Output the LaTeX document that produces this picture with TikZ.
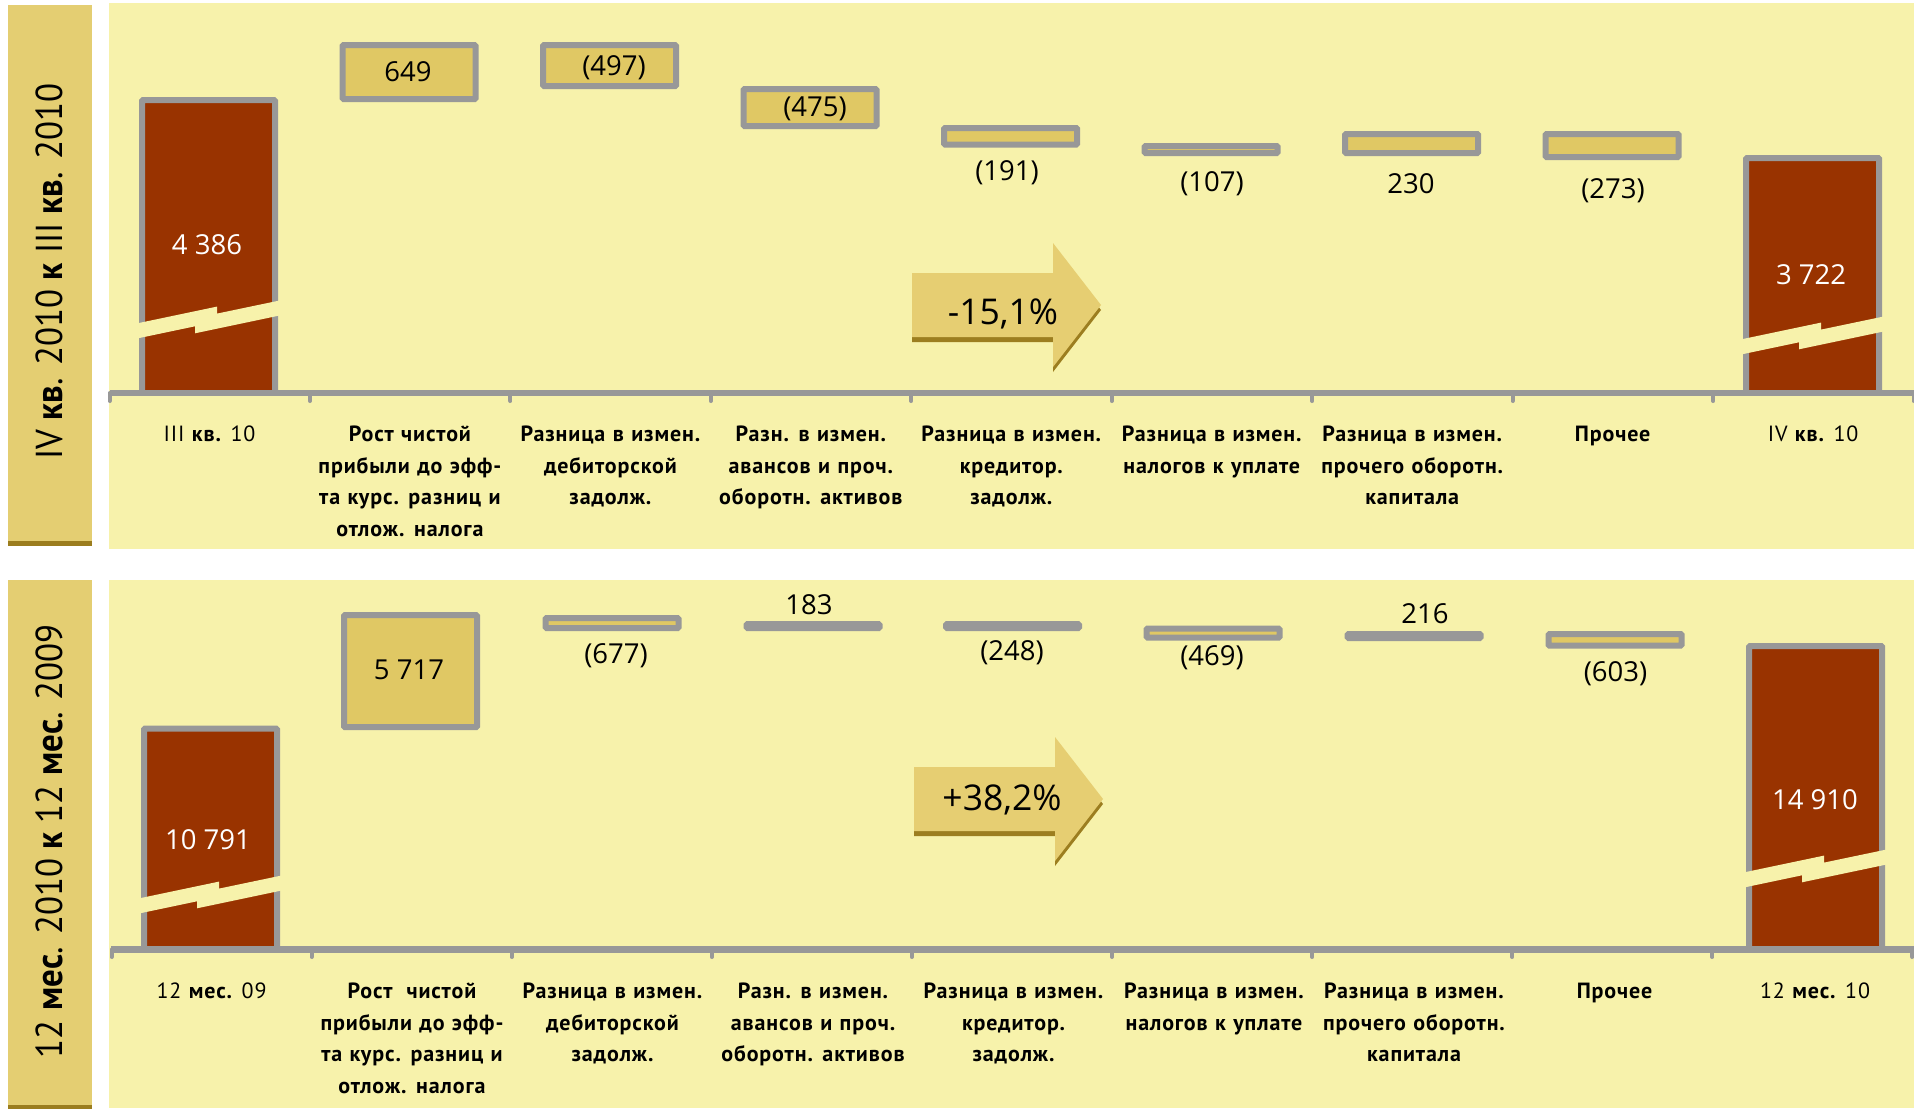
\documentclass[tikz,border=0pt]{standalone}
\usepackage{fontspec}
\setmainfont{PT Sans}
\newfontfamily\numfont{Open Sans}
\newfontfamily\lblfont[LetterSpace=4,WordSpace=1.15]{PT Sans}
\newfontfamily\bandfont[FakeStretch=0.93]{PT Sans}
\definecolor{panelbg}{HTML}{F7F2AB}
\definecolor{bandc}{HTML}{E4CE72}
\definecolor{banddark}{HTML}{9B7D1E}
\definecolor{barred}{HTML}{993300}
\definecolor{gridgray}{HTML}{989898}
\definecolor{boxfill}{HTML}{E0C864}
\definecolor{arrowfill}{HTML}{E6CE72}
\definecolor{arrowdark}{HTML}{9C7E20}
\tikzset{
  boxst/.style={fill=boxfill, draw=gridgray, line width=6pt, rounded corners=1pt},
  barst/.style={fill=barred, draw=gridgray, line width=6pt, rounded corners=1pt},
  axisst/.style={draw=gridgray, line width=6.5pt},
  tickst/.style={draw=gridgray, line width=4pt, line cap=round},
  catlbl/.style={anchor=north, align=center, inner sep=0pt, font=\lblfont\bfseries\fontsize{22}{31.5}\selectfont},
  vallbl/.style={anchor=base, inner sep=0pt, font=\numfont\fontsize{27.5}{33}\selectfont},
  barlbl/.style={vallbl, text=white},
  pctlbl/.style={anchor=base, inner sep=0pt, font=\numfont\fontsize{35.5}{40}\selectfont},
  bandlbl/.style={anchor=base, inner sep=0pt, rotate=90, font=\bandfont\fontsize{37.5}{44}\selectfont},
}
\newcommand\lbs{\rule{0pt}{22pt}}
\newcommand\wfBox[3]{\draw[boxst] ({#1-66.5},{#2+3}) rectangle ({#1+66.5},{#3-3});}
\newcommand\wfBar[3]{\draw[barst] ({#1-66.5},#3) -- ({#1-66.5},{#2+3}) -- ({#1+66.5},{#2+3}) -- ({#1+66.5},#3);}
\newcommand\wfBreak[2]{\fill[panelbg] ({#1-3},{#2+0.6}) -- ({#1+78},{#2-16.4}) -- ({#1+78},{#2-9.4}) -- ({#1+143},{#2-23}) -- ({#1+143},{#2-8}) -- ({#1+56},{#2+10.3}) -- ({#1+56},{#2+3.3}) -- ({#1-3},{#2+15.7}) -- cycle;}
\newcommand\wfArrow[2]{%
  \begin{scope}[shift={(#1,#2)}]
  \fill[arrowdark] (0,5) -- (141,5) -- (141,-25) -- (189,37) -- (141,99) -- (141,69) -- (0,69) -- cycle;
  \fill[arrowfill] (0,0) -- (141,0) -- (141,-30) -- (189,32) -- (141,94) -- (141,64) -- (0,64) -- cycle;
  \end{scope}}
\begin{document}
\begin{tikzpicture}[x=1pt,y=-1pt]
\useasboundingbox (0,0) rectangle (1914,1109);
\fill[white] (0,0) rectangle (1914,1109);
% side bands
\fill[bandc] (8,5) rectangle (92,546);
\fill[banddark] (8,541) rectangle (92,546);
\fill[bandc] (8,580) rectangle (92,1109);
\fill[banddark] (8,1104.5) rectangle (92,1109);
% panels
\fill[panelbg] (109,3) rectangle (1914,549);
\fill[panelbg] (109,580) rectangle (1914,1108);

% ---------- top panel ----------
\wfBar{208.5}{97}{393}
\wfBox{409}{42}{102}
\wfBox{609.5}{42}{89}
\wfBox{810}{86}{129}
\wfBox{1010.5}{125}{147.5}
\wfBox{1211}{143}{156}
\wfBox{1411.5}{131}{156}
\wfBox{1612}{131}{160}
\wfBar{1812.5}{155}{393}
\wfBreak{139}{323}
\wfBreak{1743}{339}
\draw[axisst] (109.5,393) -- (1914,393);
\foreach \k in {0,...,9} \draw[tickst] ({109.5+200.45*\k},393) -- ({109.5+200.45*\k},401);
\wfArrow{912}{273}

% ---------- bottom panel ----------
\wfBar{210.5}{725.6}{949.5}
\wfBox{410.5}{612}{730}
\wfBox{612}{615}{631}
\wfBox{813}{621}{631}
\wfBox{1012.5}{621}{631}
\wfBox{1213}{625.5}{640.5}
\wfBox{1414}{631}{641}
\wfBox{1615}{631}{648.6}
\wfBar{1815.5}{643}{949.5}
\wfBreak{141}{898}
\wfBreak{1746}{872}
\draw[axisst] (111,949.5) -- (1914,949.5);
\foreach \k in {0,...,9} \draw[tickst] ({111.5+200.1*\k},949.5) -- ({111.5+200.1*\k},957);
\wfArrow{914}{767}

% ---------- band labels ----------
\node[bandlbl] (bandA) at (62,271.5) {IV \textbf{кв}. 2010 \textbf{к} III \textbf{кв}. 2010};
\node[bandlbl] (bandB) at (62,841) {12 \textbf{мес}. 2010 \textbf{к} 12 \textbf{мес}. 2009};

% ---------- top values ----------
\node[barlbl] (vA1) at (207,254) {4 386};
\node[vallbl] (vA2) at (408,81) {649};
\node[vallbl] (vA3) at (614,75) {(497)};
\node[vallbl] (vA4) at (815,116) {(475)};
\node[vallbl] (vA5) at (1007,180) {(191)};
\node[vallbl] (vA6) at (1212,191) {(107)};
\node[vallbl] (vA7) at (1411,193) {230};
\node[vallbl] (vA8) at (1613,198) {(273)};
\node[barlbl] (vA9) at (1811,284) {3 722};
\node[pctlbl] (pA) at (1003,324) {-15,1\%};

% ---------- bottom values ----------
\node[barlbl] (vB1) at (208,849) {10 791};
\node[vallbl] (vB2) at (409,679) {5 717};
\node[vallbl] (vB3) at (616,663) {(677)};
\node[vallbl] (vB4) at (809,614) {183};
\node[vallbl] (vB5) at (1012,660) {(248)};
\node[vallbl] (vB6) at (1212,665) {(469)};
\node[vallbl] (vB7) at (1425,623) {216};
\node[vallbl] (vB8) at (1615.5,681) {(603)};
\node[barlbl] (vB9) at (1815,809) {14 910};
\node[pctlbl] (pB) at (1002,810) {+38,2\%};

% ---------- top categories ----------
\node[catlbl] (cA1) at (209.5,419.7) {\lbs{\mdseries III} кв. {\mdseries 10}};
\node[catlbl] (cA2) at (409.95,419.7) {\lbs Рост чистой\\прибыли до эфф-\\та курс. разниц и\\отлож. налога};
\node[catlbl] (cA3) at (610.4,419.7) {\lbs Разница в измен.\\дебиторской\\задолж.};
\node[catlbl] (cA4) at (810.85,419.7) {\lbs Разн. в измен.\\авансов и проч.\\оборотн. активов};
\node[catlbl] (cA5) at (1011.3,419.7) {\lbs Разница в измен.\\кредитор.\\задолж.};
\node[catlbl] (cA6) at (1211.75,419.7) {\lbs Разница в измен.\\налогов к уплате};
\node[catlbl] (cA7) at (1412.2,419.7) {\lbs Разница в измен.\\прочего оборотн.\\капитала};
\node[catlbl] (cA8) at (1612.65,419.7) {\lbs Прочее};
\node[catlbl] (cA9) at (1813.1,419.7) {\lbs{\mdseries IV} кв. {\mdseries 10}};

% ---------- bottom categories ----------
\node[catlbl] (cB1) at (211.5,976.7) {\lbs{\mdseries 12} мес. {\mdseries 09}};
\node[catlbl] (cB2) at (412,976.7) {\lbs Рост\hspace{14pt}чистой\\прибыли до эфф-\\та курс. разниц и\\отлож. налога};
\node[catlbl] (cB3) at (612.5,976.7) {\lbs Разница в измен.\\дебиторской\\задолж.};
\node[catlbl] (cB4) at (813,976.7) {\lbs Разн. в измен.\\авансов и проч.\\оборотн. активов};
\node[catlbl] (cB5) at (1013.5,976.7) {\lbs Разница в измен.\\кредитор.\\задолж.};
\node[catlbl] (cB6) at (1214,976.7) {\lbs Разница в измен.\\налогов к уплате};
\node[catlbl] (cB7) at (1414,976.7) {\lbs Разница в измен.\\прочего оборотн.\\капитала};
\node[catlbl] (cB8) at (1614.5,976.7) {\lbs Прочее};
\node[catlbl] (cB9) at (1815,976.7) {\lbs{\mdseries 12} мес. {\mdseries 10}};
\end{tikzpicture}
\end{document}
